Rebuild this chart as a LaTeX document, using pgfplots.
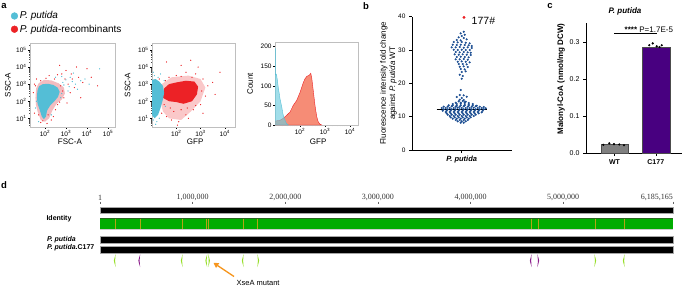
\documentclass[border=0pt]{standalone}
\usepackage{pgfplots}
\pgfplotsset{compat=1.18}
\usepackage{fontspec}
\setmainfont{Liberation Sans}
\newfontfamily\serifd{Liberation Serif}
\usetikzlibrary{arrows.meta}

\definecolor{cyA}{RGB}{84,190,214}
\definecolor{rdA}{RGB}{236,34,38}
\definecolor{pinkA}{RGB}{238,160,165}
\definecolor{hcy}{RGB}{110,205,222}
\definecolor{hrd}{RGB}{246,140,118}
\definecolor{navy}{RGB}{27,77,145}
\definecolor{wtgrey}{RGB}{128,128,128}
\definecolor{purp}{RGB}{72,0,128}
\definecolor{gbar}{RGB}{0,172,0}
\definecolor{gedge}{RGB}{40,100,30}
\definecolor{tanl}{RGB}{180,165,20}
\definecolor{limeF}{RGB}{150,222,40}
\definecolor{purF}{RGB}{140,30,140}
\definecolor{orgA}{RGB}{246,150,30}

\newcommand{\tl}[1]{10\textsuperscript{#1}}
\newcommand{\lastlab}{6,185,165}

\pgfdeclareplotmark{featL}{%
 \pgfpathmoveto{\pgfqpoint{0.7pt}{6.5pt}}%
 \pgfpathcurveto{\pgfqpoint{-0.4pt}{3pt}}{\pgfqpoint{-1.1pt}{1pt}}{\pgfqpoint{-1.1pt}{0pt}}%
 \pgfpathcurveto{\pgfqpoint{-1.1pt}{-1pt}}{\pgfqpoint{-0.4pt}{-3pt}}{\pgfqpoint{0.7pt}{-6.5pt}}%
 \pgfpathcurveto{\pgfqpoint{0.2pt}{-3pt}}{\pgfqpoint{0.2pt}{-1pt}}{\pgfqpoint{0.2pt}{0pt}}%
 \pgfpathcurveto{\pgfqpoint{0.2pt}{1pt}}{\pgfqpoint{0.2pt}{3pt}}{\pgfqpoint{0.7pt}{6.5pt}}%
 \pgfpathclose\pgfusepathqfill}
\pgfdeclareplotmark{featR}{%
 \pgfpathmoveto{\pgfqpoint{-0.7pt}{6.5pt}}%
 \pgfpathcurveto{\pgfqpoint{0.4pt}{3pt}}{\pgfqpoint{1.1pt}{1pt}}{\pgfqpoint{1.1pt}{0pt}}%
 \pgfpathcurveto{\pgfqpoint{1.1pt}{-1pt}}{\pgfqpoint{0.4pt}{-3pt}}{\pgfqpoint{-0.7pt}{-6.5pt}}%
 \pgfpathcurveto{\pgfqpoint{-0.2pt}{-3pt}}{\pgfqpoint{-0.2pt}{-1pt}}{\pgfqpoint{-0.2pt}{0pt}}%
 \pgfpathcurveto{\pgfqpoint{-0.2pt}{1pt}}{\pgfqpoint{-0.2pt}{3pt}}{\pgfqpoint{-0.7pt}{6.5pt}}%
 \pgfpathclose\pgfusepathqfill}

\pgfplotsset{
 every axis/.append style={scale only axis, /pgf/number format/assume math mode=true,
   tick label style={font=\fontsize{6.5}{7}\selectfont},
   label style={font=\fontsize{8}{9}\selectfont}},
 flow/.style={axis line style={draw=black!25, line width=0.5pt}, tick pos=left,
   tick align=outside, major tick length=1.8pt, minor tick length=1pt,
   tick style={black, line width=0.35pt}, minor tick style={black!70, line width=0.3pt},
   ytick={1,2,3,4,5}, yticklabels={\tl1,\tl2,\tl3,\tl4,\tl5},
   xticklabel style={inner sep=1.5pt}, yticklabel style={inner sep=1.5pt},
   ylabel style={anchor=center}, xlabel style={anchor=center}},
}

\begin{document}
\begin{tikzpicture}
\useasboundingbox (0pt,0pt) rectangle (685pt,-286pt);

% panel letters
\node[font=\bfseries\fontsize{9.5}{10}\selectfont] at (4pt,-6pt) {a};
\node[font=\bfseries\fontsize{9.5}{10}\selectfont] at (366pt,-6pt) {b};
\node[font=\bfseries\fontsize{9.5}{10}\selectfont] at (550pt,-6pt) {c};
\node[font=\bfseries\fontsize{9.5}{10}\selectfont] at (4pt,-185pt) {d};

%================ a1 =================
\begin{axis}[flow, at={(30pt,-43pt)}, anchor=north west, width=85pt, height=84pt,
  xmin=1.29, xmax=5.33, ymin=0.49, ymax=5.41,
  xtick={2,3,4,5}, xticklabels={\tl2,\tl3,\tl4,\tl5},
  minor xtick={1.301,1.477,1.602,1.699,1.778,1.845,1.903,1.954,
    2.301,2.477,2.602,2.699,2.778,2.845,2.903,2.954,
    3.301,3.477,3.602,3.699,3.778,3.845,3.903,3.954,
    4.301,4.477,4.602,4.699,4.778,4.845,4.903,4.954,5.301},
  minor ytick={0.602,0.699,0.778,0.845,0.903,0.954,
    1.301,1.477,1.602,1.699,1.778,1.845,1.903,1.954,
    2.301,2.477,2.602,2.699,2.778,2.845,2.903,2.954,
    3.301,3.477,3.602,3.699,3.778,3.845,3.903,3.954,
    4.301,4.477,4.602,4.699,4.778,4.845,4.903,4.954,5.301},
  xlabel={FSC-A}, ylabel={SSC-A},
  xlabel style={at={(axis description cs:0.47,-0.18)}},
  ylabel style={at={(axis description cs:-0.26,0.5)}},
  legend style={at={(axis description cs:-0.225,1.40)}, anchor=north west, draw=none, fill=none,
    font=\fontsize{10}{11}\selectfont, row sep=0.5pt, inner sep=0pt},
  legend cell align=left]
\addlegendimage{only marks, mark=*, mark size=3.4pt, color=cyA}
\addlegendentry{\textit{P. putida}}
\addlegendimage{only marks, mark=*, mark size=3.4pt, color=rdA}
\addlegendentry{\textit{P. putida}-recombinants}
\addplot[fill=pinkA, draw=none, fill opacity=0.7, forget plot] coordinates {
(1.55,2.2) (1.58,2.75) (1.7,3.05) (1.95,3.25) (2.3,3.22) (2.65,3.05) (2.9,2.8) (2.95,2.45)
(2.8,2.1) (2.55,1.85) (2.35,1.45) (2.2,1.0) (2.0,0.8) (1.8,0.9) (1.65,1.4) (1.57,1.8)} -- cycle;
\addplot[fill=cyA, draw=none, forget plot] coordinates {
(1.62,2.2) (1.64,2.6) (1.72,2.88) (1.9,3.0) (2.15,3.02) (2.4,2.95) (2.6,2.8) (2.7,2.55)
(2.62,2.25) (2.45,2.0) (2.25,1.75) (2.1,1.45) (2.05,1.1) (1.95,0.95) (1.85,1.1) (1.75,1.5) (1.65,1.85)} -- cycle;
\addplot[only marks, mark=*, mark size=0.35pt, rdA, forget plot] coordinates {
(2.95,3.3) (3.1,3.0) (3.25,3.6) (3.4,2.8) (3.0,3.8) (3.6,3.4) (3.8,3.1) (2.8,3.6) (3.5,4.0)
(4.2,3.4) (2.6,3.55) (3.2,2.5) (2.9,2.2) (3.05,1.9) (2.5,1.5) (2.4,1.1) (2.1,0.7) (1.8,0.75)
(1.5,1.3) (1.45,2.5) (1.5,3.0) (2.2,3.5) (4.5,2.9) (3.7,2.2) (4.0,3.9) (2.7,4.1) (3.3,3.3)
(1.6,3.3) (2.3,0.9) (2.6,1.8) (2.45,3.3) (2.75,2.9) (2.85,2.6) (1.7,1.2) (1.9,0.85)
(2.15,1.2) (2.7,1.95) (1.55,2.9) (1.8,3.2) (2.05,3.35)};
\addplot[only marks, mark=*, mark size=0.35pt, cyA, forget plot] coordinates {
(2.85,3.1) (3.0,3.25) (3.15,2.85) (3.3,3.15) (3.45,3.0) (3.2,3.4) (3.7,3.2) (2.8,3.45)
(3.55,2.7) (3.9,3.3) (4.6,3.9) (3.1,2.6) (2.75,2.2) (1.55,1.6) (1.7,0.8) (2.5,3.4)
(3.35,3.65) (4.1,3.0) (2.9,2.95) (2.8,2.45) (2.3,1.2) (1.6,2.0)};
\end{axis}

%================ a2 =================
\begin{axis}[flow, at={(152pt,-43pt)}, anchor=north west, width=83pt, height=84pt,
  xmin=1.0, xmax=4.42, ymin=0.49, ymax=5.41,
  xtick={2,3,4}, xticklabels={\tl2,\tl3,\tl4},
  minor xtick={1.301,1.477,1.602,1.699,1.778,1.845,1.903,1.954,
    2.301,2.477,2.602,2.699,2.778,2.845,2.903,2.954,
    3.301,3.477,3.602,3.699,3.778,3.845,3.903,3.954,4.301},
  minor ytick={0.602,0.699,0.778,0.845,0.903,0.954,
    1.301,1.477,1.602,1.699,1.778,1.845,1.903,1.954,
    2.301,2.477,2.602,2.699,2.778,2.845,2.903,2.954,
    3.301,3.477,3.602,3.699,3.778,3.845,3.903,3.954,
    4.301,4.477,4.602,4.699,4.778,4.845,4.903,4.954,5.301},
  xlabel={GFP}, ylabel={SSC-A},
  xlabel style={at={(axis description cs:0.52,-0.18)}},
  ylabel style={at={(axis description cs:-0.295,0.5)}}]
\addplot[fill=rdA, draw=none, fill opacity=0.25] coordinates {
(1.35,2.0) (1.4,3.0) (1.8,3.4) (2.5,3.5) (3.0,3.3) (3.2,2.8) (3.0,2.0) (2.6,1.4) (2.2,0.9)
(1.7,1.0) (1.45,1.4)} -- cycle;
\addplot[fill=rdA, draw=none] coordinates {
(1.45,2.2) (1.5,2.75) (1.7,3.0) (2.0,3.1) (2.4,3.2) (2.75,3.15) (2.9,2.85) (2.85,2.4)
(2.65,2.0) (2.3,1.85) (2.0,1.95) (1.7,2.0)} -- cycle;
\addplot[fill=cyA, draw=none] coordinates {
(1.0,1.2) (1.0,3.25) (1.15,3.3) (1.3,3.15) (1.45,2.9) (1.5,2.5) (1.45,2.1) (1.35,1.6)
(1.25,1.2) (1.1,1.0)} -- cycle;
\addplot[only marks, mark=*, mark size=0.35pt, rdA] coordinates {
(1.4,1.3) (1.6,1.1) (1.8,0.9) (2.1,0.8) (2.4,1.2) (2.7,1.5) (3.0,1.8) (3.2,2.3) (3.3,2.9)
(3.1,3.3) (2.8,3.6) (2.4,3.7) (2.0,3.5) (1.7,3.4) (1.3,3.3) (2.2,4.1) (2.9,4.0) (3.5,3.1)
(3.6,2.4) (1.9,1.4) (2.2,1.5) (2.5,1.0) (1.6,4.3) (3.8,3.7) (2.6,4.4) (1.5,1.8) (3.1,1.3)
(2.05,0.6) (1.75,1.6) (2.45,1.6) (2.8,1.75) (3.05,2.6) (1.55,3.2) (2.2,3.45) (2.65,3.4)};
\addplot[only marks, mark=*, mark size=0.35pt, cyA] coordinates {
(1.05,0.9) (1.2,0.8) (1.3,1.0) (1.1,3.5) (1.25,3.4) (1.5,3.2) (1.55,1.7) (1.15,0.65)
(1.35,3.6) (1.05,3.7)};
\end{axis}

%================ a3 histogram =================
\begin{axis}[flow, at={(275pt,-42.7pt)}, anchor=north west, width=83pt, height=82.3pt,
  xmin=1.0, xmax=4.32, ymin=0, ymax=210,
  xtick={2,3,4}, xticklabels={\tl2,\tl3,\tl4},
  minor xtick={1.301,1.477,1.602,1.699,1.778,1.845,1.903,1.954,
    2.301,2.477,2.602,2.699,2.778,2.845,2.903,2.954,
    3.301,3.477,3.602,3.699,3.778,3.845,3.903,3.954,4.301},
  ytick={0,50,100,150,200}, yticklabels={0,50,100,150,200},
  xlabel={GFP}, ylabel={Count},
  xlabel style={at={(axis description cs:0.52,-0.2)}},
  ylabel style={at={(axis description cs:-0.30,0.5)}}]
\addplot[fill=hrd, draw=rdA, line width=0.4pt] coordinates {
(1.0,0) (1.0,10) (1.1,11) (1.2,12) (1.33,17) (1.47,25) (1.6,33) (1.73,50) (1.87,63)
(2.0,83) (2.13,108) (2.2,118) (2.27,124) (2.33,126) (2.37,127) (2.43,132) (2.47,120)
(2.53,88) (2.6,50) (2.67,21) (2.73,8) (2.8,2) (2.87,0)} -- cycle;
\addplot[fill=hcy, fill opacity=0.65, draw=cyA, line width=0.4pt] coordinates {
(1.0,0) (1.0,195) (1.015,195) (1.015,128) (1.05,130) (1.07,125) (1.1,112) (1.13,96)
(1.17,80) (1.2,67) (1.24,55) (1.27,46) (1.3,35) (1.33,25) (1.37,17) (1.4,12) (1.44,6)
(1.47,3) (1.53,0)} -- cycle;
\end{axis}

%================ b =================
\begin{axis}[at={(412pt,-16.7pt)}, anchor=north west, width=100pt, height=133.3pt,
  axis lines=left, axis line style={-, line width=0.6pt},
  xmin=-49.7, xmax=50.3, ymin=0, ymax=40, ytick={0,10,20,30,40},
  xtick={0}, xticklabels={\textbf{\textit{P. putida}}},
  tick align=outside, major tick length=3pt, tick style={black, line width=0.6pt},
  tick label style={font=\fontsize{6.5}{7}\selectfont},
  xticklabel style={font=\fontsize{7.5}{8}\selectfont},
  ylabel={Fluorescence intensity fold change\\against \textit{P. putida} WT},
  ylabel style={align=center, at={(axis description cs:-0.235,0.5)}, anchor=center,
    font=\fontsize{8}{9.2}\selectfont},
  clip=false]
\addplot[only marks, mark=*, mark size=0.85pt, navy] coordinates {
(0,15.6) (-2,15.1) (2,15.0) (-3,14.6) (1,14.7) (4,14.5)
(-6,14.2) (-1,14.2) (3,14.3) (7,14.1)
(-9,13.8) (-5,13.8) (-1,13.9) (3,13.8) (7,13.7) (11,13.8)
(-13,13.4) (-9,13.4) (-5,13.3) (-1,13.4) (3,13.4) (7,13.3) (11,13.4) (15,13.3)
(-18,13.0) (-14,13.0) (-10,13.1) (-6,13.0) (-2,13.0) (2,13.1) (6,13.0) (10,13.0) (14,13.1) (18,13.0) (22,12.9)
(-20,12.6) (-16,12.6) (-12,12.6) (-8,12.6) (-4,12.7) (0,12.6) (4,12.6) (8,12.6) (12,12.7) (16,12.6) (20,12.6) (24,12.5)
(-18,12.2) (-14,12.2) (-10,12.2) (-6,12.2) (-2,12.2) (2,12.2) (6,12.2) (10,12.2) (14,12.2) (18,12.2) (22,12.2)
(-19,11.8) (-15,11.8) (-11,11.8) (-7,11.8) (-3,11.8) (1,11.8) (5,11.8) (9,11.8) (13,11.8) (17,11.8) (21,11.8)
(-16,11.4) (-12,11.4) (-8,11.4) (-4,11.4) (0,11.4) (4,11.4) (8,11.4) (12,11.4) (16,11.4) (20,11.3)
(-15,11.0) (-11,11.0) (-7,11.0) (-3,11.0) (1,11.0) (5,11.0) (9,11.0) (13,11.0) (17,11.0)
(-14,10.6) (-10,10.6) (-6,10.6) (-2,10.6) (2,10.6) (6,10.6) (10,10.6) (14,10.6)
(-12,10.2) (-8,10.2) (-4,10.2) (0,10.2) (4,10.2) (8,10.2) (12,10.2)
(-11,9.8) (-7,9.8) (-3,9.8) (1,9.8) (5,9.8) (9,9.8)
(-9,9.4) (-5,9.4) (-1,9.4) (3,9.4) (7,9.4)
(-6,9.0) (-2,9.0) (2,9.0) (6,9.0)
(-4,8.6) (0,8.6) (4,8.6) (-1,8.2) (2,8.2)
(2,35.5) (-1,35.0) (3,34.6) (0,34.2) (-3,33.8) (2,33.6) (5,33.2) (-5,33.0) (-1,32.9)
(-8,32.4) (-4,32.3) (0,32.4) (4,32.2) (8,32.0)
(-9,31.6) (-5,31.5) (-1,31.6) (3,31.5) (7,31.4) (10,31.2)
(-10,30.8) (-6,30.8) (-2,30.9) (2,30.7) (6,30.8) (10,30.6)
(-8,30.1) (-4,30.0) (0,30.1) (4,30.0) (8,30.0)
(-6,29.4) (-2,29.3) (2,29.4) (6,29.3) (9,29.2)
(-7,28.7) (-3,28.6) (1,28.7) (5,28.6) (9,28.5)
(-5,27.9) (-1,28.0) (3,27.9) (7,27.8)
(-6,27.2) (-2,27.2) (2,27.3) (6,27.1)
(-4,26.5) (0,26.6) (4,26.5) (8,26.3)
(-3,25.8) (1,25.8) (5,25.7)
(-2,25.0) (2,25.1) (6,24.9)
(-1,24.3) (3,24.2) (0,23.4) (4,23.6) (-2,22.6) (1,22.2) (0,21.4) (-1,18.0)
(-2,16.5) (2,16.4) (5,16.0) (-5,15.9)};
\addplot[black, line width=0.6pt] coordinates {(-25,12.3) (25.6,12.3)};
\addplot[only marks, mark=*, mark size=1.3pt, rdA] coordinates {(2.3,39.8)};
\node[anchor=west, font=\fontsize{10.5}{11}\selectfont] at (axis cs:6.5,38.7) {177\#};
\end{axis}

%================ c =================
\begin{axis}[at={(586pt,-23pt)}, anchor=north west, width=96pt, height=130pt,
  axis lines=left, axis line style={-, line width=0.6pt},
  xmin=0, xmax=96, ymin=0, ymax=0.351,
  ytick={0,0.1,0.2,0.3},
  yticklabel style={/pgf/number format/fixed, /pgf/number format/precision=1,
    /pgf/number format/fixed zerofill},
  xtick={28.5,69.8}, xticklabels={\textbf{WT},\textbf{C177}},
  tick align=outside, major tick length=3pt, tick style={black, line width=0.6pt},
  tick label style={font=\fontsize{7}{8}\selectfont},
  xticklabel style={font=\fontsize{7}{8}\selectfont},
  ylabel={\textbf{Malonyl-CoA (nmol/mg DCW)}},
  ylabel style={at={(axis description cs:-0.26,0.57)}, anchor=center,
    font=\fontsize{8}{9}\selectfont},
  clip=false]
\addplot[ybar, bar width=27.7, fill=wtgrey, draw=black!70, line width=0.3pt] coordinates {(28.5,0.0235)};
\addplot[ybar, bar width=28.3, fill=purp, draw=black!70, line width=0.3pt] coordinates {(69.8,0.2865)};
\addplot[only marks, mark=*, mark size=0.9pt, black] coordinates {
(17.3,0.022) (23.3,0.026) (28,0.024) (33.3,0.023) (38,0.021)
(63.3,0.291) (66.7,0.296) (70.7,0.288) (73.5,0.286) (75.7,0.291)};
\addplot[black, line width=0.5pt] coordinates {(28,0.323) (70.7,0.323)};
\node[anchor=west, font=\fontsize{8}{9}\selectfont, inner sep=0pt] at (axis cs:38.5,0.334)
  {\textbf{****} P=1.7E-5};
\node[font=\bfseries\itshape\fontsize{8}{9}\selectfont] at (axis cs:39,0.382) {P. putida};
\end{axis}

%================ d =================
\node[anchor=west, font=\bfseries\fontsize{7}{8}\selectfont] at (43pt,-218.5pt) {Identity};
\node[anchor=west, font=\bfseries\itshape\fontsize{7}{8}\selectfont] at (43.5pt,-239.8pt) {P. putida};
\node[anchor=west, font=\bfseries\fontsize{7}{8}\selectfont] at (43.5pt,-247.8pt) {\textit{P. putida}.C177};

\begin{axis}[at={(100pt,-204pt)}, anchor=north west, width=573pt, height=82pt,
  xmin=1, xmax=6185165, ymin=-286, ymax=-204,
  axis x line*=top, axis y line=none, axis line style={draw=none},
  xtick={1,1000000,2000000,3000000,4000000,5000000},
  xticklabels={1,{1,000,000},{2,000,000},{3,000,000},{4,000,000},{5,000,000}},
  extra x ticks={6185165}, extra x tick labels={\lastlab},
  extra x tick style={xticklabel style={anchor=south east, xshift=1pt}},
  scaled x ticks=false,
  tick align=outside, major tick length=2.5pt, tick style={black!60, line width=0.4pt},
  xticklabel style={font=\serifd\fontsize{8}{9}\selectfont, text=black!80, inner sep=1pt},
  unbounded coords=jump,
  clip=false]
\addplot[fill=black, draw=black!35, line width=0.4pt] coordinates {
(1,-207) (6185165,-207) (6185165,-213.3) (1,-213.3)} -- cycle;
\addplot[fill=gbar, draw=none] coordinates {
(1,-217.7) (6185165,-217.7) (6185165,-229.3) (1,-229.3)} -- cycle;
\addplot[gedge, line width=0.9pt] coordinates {(1,-218.1) (6185165,-218.1)};
\addplot[black!20, line width=0.5pt] coordinates {(1,-229.5) (6185165,-229.5)};
\addplot[tanl, line width=0.6pt] coordinates {
(161916,-218.6) (161916,-229.2) (161916,nan)
(431776,-218.6) (431776,-229.2) (431776,nan)
(885140,-218.6) (885140,-229.2) (885140,nan)
(1151762,-218.6) (1151762,-229.2) (1151762,nan)
(1169033,-218.6) (1169033,-229.2) (1169033,nan)
(1546824,-218.6) (1546824,-229.2) (1546824,nan)
(1702283,-218.6) (1702283,-229.2) (1702283,nan)
(4652400,-218.6) (4652400,-229.2) (4652400,nan)
(4731580,-218.6) (4731580,-229.2) (4731580,nan)
(5343230,-218.6) (5343230,-229.2) (5343230,nan)
(5656270,-218.6) (5656270,-229.2)};
\addplot[fill=black, draw=black!35, line width=0.4pt] coordinates {
(1,-235.7) (6185165,-235.7) (6185165,-242.7) (1,-242.7)} -- cycle;
\addplot[fill=black, draw=black!35, line width=0.4pt] coordinates {
(1,-245.7) (6185165,-245.7) (6185165,-252.7) (1,-252.7)} -- cycle;
\addplot[only marks, mark=featL, color=limeF] coordinates {
(161916,-260.7) (885140,-260.7) (1149604,-260.7) (1543600,-260.7) (5656300,-260.7)};
\addplot[only marks, mark=featR, color=limeF] coordinates {
(1174430,-260.7) (1705500,-260.7) (5343200,-260.7)};
\addplot[only marks, mark=featL, color=purF] coordinates {(426379,-260.7) (4652400,-260.7)};
\addplot[only marks, mark=featR, color=purF] coordinates {(4728000,-260.7)};
\addplot[orgA, line width=1.3pt, -{Triangle[length=5pt,width=5.5pt]}] coordinates {
(1446450,-276.5) (1225163,-262.8)};
\node[font=\fontsize{7.5}{8}\selectfont] at (axis cs:1706000,-282.5) {XseA mutant};
\end{axis}
\end{tikzpicture}
\end{document}
